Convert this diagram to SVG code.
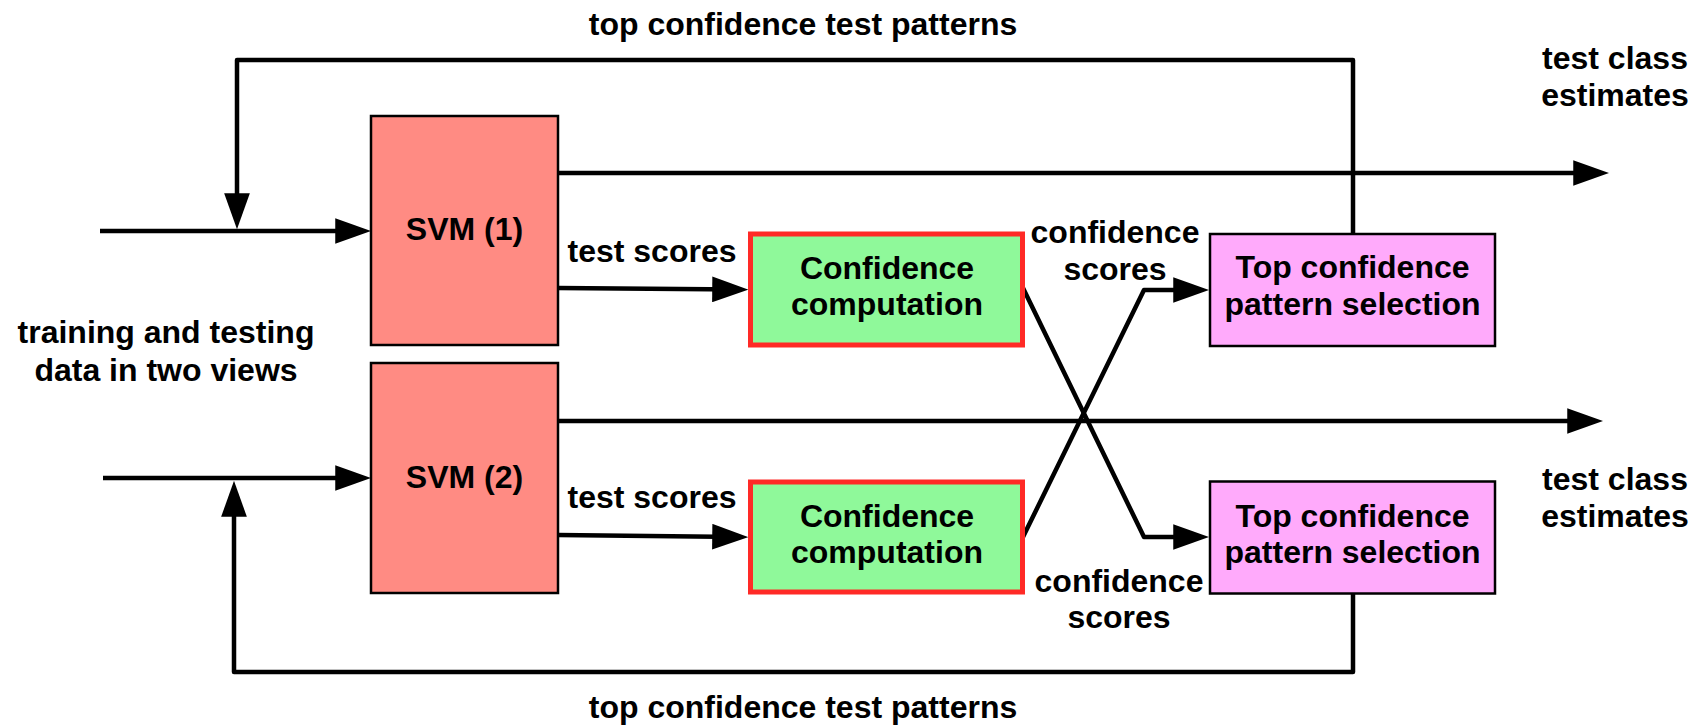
<svg xmlns="http://www.w3.org/2000/svg" width="1695" height="726" viewBox="0 0 1695 726">
  <style>
    text { font-family: "Liberation Sans", Arial, Helvetica, sans-serif; font-weight: bold; font-size: 32px; fill: #000; text-anchor: middle; }
    .svm { fill: #FF8B83; stroke: #000; stroke-width: 2.5; }
    .conf { fill: #8FF99A; stroke: #FF2A26; stroke-width: 5; }
    .sel { fill: #FFAAFB; stroke: #000; stroke-width: 2.5; }
    .wire { fill: none; stroke: #000; stroke-width: 4.5; stroke-linejoin: round; }
    .arrow { marker-end: url(#head); }
  </style>
  <defs>
    <marker id="head" markerUnits="userSpaceOnUse" markerWidth="36" markerHeight="26" viewBox="0 0 35 25" refX="27" refY="12.5" orient="auto">
      <path d="M0,0 L35,12.5 L0,25 Z" fill="#000"/>
    </marker>
  </defs>

  <!-- connectors -->
  <g id="connectors">
    <path class="wire arrow" d="M100,231 H363"/>
    <path class="wire arrow" d="M103,478 H363"/>
    <path class="wire arrow" d="M1353,234 V60 H237 V221"/>
    <path class="wire arrow" d="M1353,593 V672 H234 V489"/>
    <path class="wire arrow" d="M558,173 H1601"/>
    <path class="wire arrow" d="M558,421 H1595"/>
    <path class="wire arrow" d="M558,288 L740,289.5"/>
    <path class="wire arrow" d="M558,535 L740,537"/>
    <path class="wire arrow" d="M1023,288 L1144,537 H1201"/>
    <path class="wire arrow" d="M1023,537 L1144,290 H1201"/>
  </g>

  <!-- edge labels -->
  <g id="labels">
    <text x="803" y="35">top confidence test patterns</text>
    <text x="803" y="718">top confidence test patterns</text>
    <text x="1615" y="69">test class</text>
    <text x="1615" y="106">estimates</text>
    <text x="1615" y="490">test class</text>
    <text x="1615" y="527">estimates</text>
    <text x="166" y="343">training and testing</text>
    <text x="166" y="381">data in two views</text>
    <text x="652" y="262">test scores</text>
    <text x="652" y="508">test scores</text>
    <text x="1115" y="243">confidence</text>
    <text x="1115" y="280">scores</text>
    <text x="1119" y="592">confidence</text>
    <text x="1119" y="628">scores</text>
  </g>

  <!-- nodes -->
  <g id="svm1">
    <rect class="svm" x="371" y="116" width="187" height="229"/>
    <text x="464.5" y="240">SVM (1)</text>
  </g>
  <g id="svm2">
    <rect class="svm" x="371" y="363" width="187" height="230"/>
    <text x="464.5" y="488">SVM (2)</text>
  </g>
  <g id="confidence1">
    <rect class="conf" x="750.5" y="234" width="272" height="111"/>
    <text x="887" y="279">Confidence</text>
    <text x="887" y="315">computation</text>
  </g>
  <g id="confidence2">
    <rect class="conf" x="750.5" y="482" width="272" height="110"/>
    <text x="887" y="527">Confidence</text>
    <text x="887" y="563">computation</text>
  </g>
  <g id="selection1">
    <rect class="sel" x="1210" y="234" width="285" height="112"/>
    <text x="1352.5" y="278">Top confidence</text>
    <text x="1352.5" y="315">pattern selection</text>
  </g>
  <g id="selection2">
    <rect class="sel" x="1210" y="481.5" width="285" height="112"/>
    <text x="1352.5" y="527">Top confidence</text>
    <text x="1352.5" y="563">pattern selection</text>
  </g>
</svg>
